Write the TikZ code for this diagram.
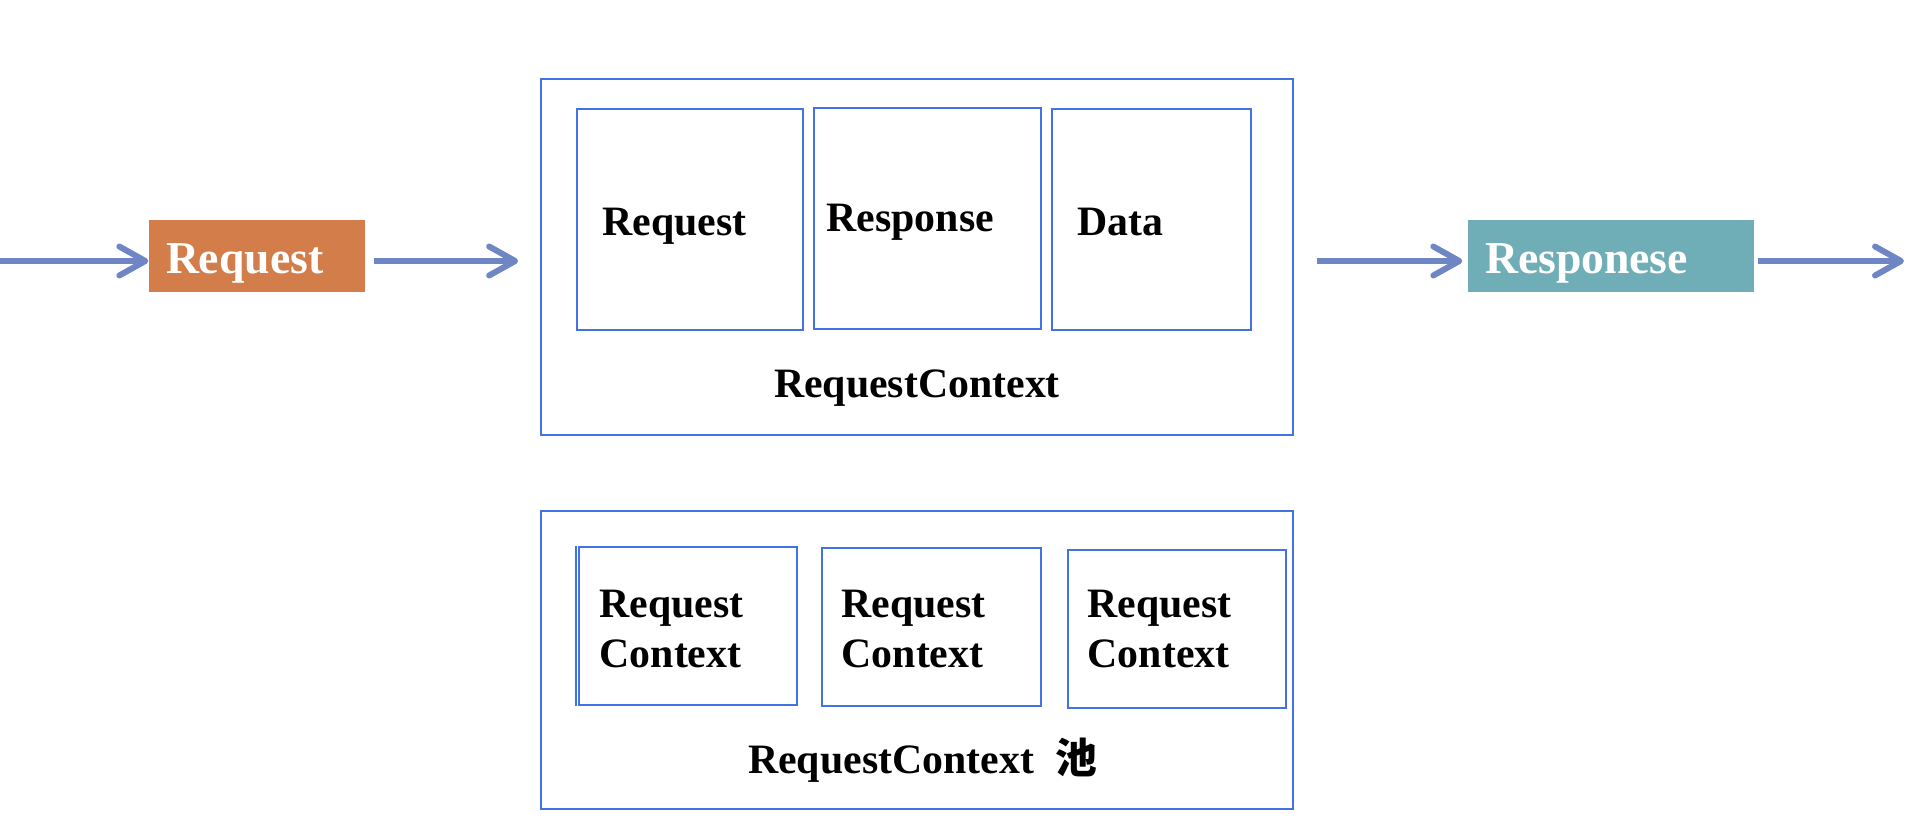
\documentclass[tikz,border=0pt]{standalone}
\usepackage{fontspec}
\setmainfont{Liberation Serif}
\newfontfamily\cjkfont{Noto Sans CJK SC}
\usepackage{tikz}
\usetikzlibrary{
  arrows.meta,
  positioning
}
\definecolor{reqorange}{RGB}{210,125,74}
\definecolor{respteal}{RGB}{112,174,183}
\definecolor{flowblue}{RGB}{110,134,196}
\definecolor{boxblue}{RGB}{66,114,230}

\begin{document}
\begin{tikzpicture}[
      msgbox/.style={
         rectangle,
         minimum height=7.2mm,
         inner xsep=1.7mm,
         text height=11pt,
         text depth=1pt,
         align=left,
         text=white,
         font=\bfseries\fontsize{13}{15}\selectfont
      },
      ctxbox/.style={
         rectangle,
         draw=boxblue,
         line width=0.5pt,
         inner sep=0pt
      },
      boxtext/.style={
         inner sep=0pt,
         align=left,
         font=\bfseries\fontsize{11.9}{14}\selectfont
      },
      point/.style={coordinate},
      >={Straight Barb[length=2.6mm,width=2.9mm,round]},
      tip/.style={->,line width=1.7pt,draw=flowblue},
    ]
    \useasboundingbox (0,0) rectangle (19.16,8.30);
    % request flow
    \coordinate (n10) at (0,5.69);
    \node (n11) [msgbox, fill=reqorange, text width=18.2mm] at (2.57,5.74) {Request};
    \node (n12) [ctxbox, minimum width=75.2mm, minimum height=35.6mm] at (9.17,5.73) {};
    \node (n16) [msgbox, fill=respteal, text width=25.2mm] at (16.11,5.74) {Responese};
    \coordinate (n17) at (19.04,5.69);
    % inside the context
    \node (n13) [ctxbox, minimum width=22.6mm, minimum height=22.1mm] at (6.90,6.105) {};
    \node (n14) [ctxbox, minimum width=22.7mm, minimum height=22.1mm] at (9.275,6.115) {};
    \node (n15) [ctxbox, minimum width=19.9mm, minimum height=22.1mm] at (11.515,6.105) {};
    \node (t13) [boxtext, anchor=base west] at (6.02,5.95) {Request};
    \node (t14) [boxtext, anchor=base west] at (8.26,5.99) {Response};
    \node (t15) [boxtext, anchor=base west] at (10.77,5.95) {Data};
    \node (t12) [boxtext, anchor=base] at (9.17,4.33) {RequestContext};
    % the pool
    \node (n21) [ctxbox, minimum width=75.2mm, minimum height=29.8mm] at (9.17,1.70) {};
    \node (n22) [ctxbox, minimum width=21.8mm, minimum height=15.8mm] at (6.88,2.04) {};
    \node (n23) [ctxbox, minimum width=21.9mm, minimum height=15.8mm] at (9.315,2.03) {};
    \node (n24) [ctxbox, minimum width=21.8mm, minimum height=15.8mm] at (11.77,2.01) {};
    \draw [ctxbox] ([xshift=-0.2mm]n22.north west) -- ([xshift=-0.2mm]n22.south west);
    \node (t22) [boxtext, anchor=base west] at (5.99,1.63) {Request\\Context};
    \node (t23) [boxtext, anchor=base west] at (8.41,1.63) {Request\\Context};
    \node (t24) [boxtext, anchor=base west] at (10.87,1.63) {Request\\Context};
    \node (t21) [boxtext, anchor=base] at (9.23,0.57) {RequestContext\hspace{2.2mm}{\cjkfont\bfseries 池}};
    % arrows
    \draw [tip] (n10) -- (n10 -| n11.west);
    \draw [tip, shorten <=0.8mm, shorten >=2.2mm] (n11.east |- n10) -- (n12.west |- n10);
    \draw [tip, shorten <=2.3mm, shorten >=0.5mm] (n12.east |- n10) -- (n16.west |- n10);
    \draw [tip, shorten <=0.3mm] (n16.east |- n10) -- (n17);
\end{tikzpicture}
\end{document}
